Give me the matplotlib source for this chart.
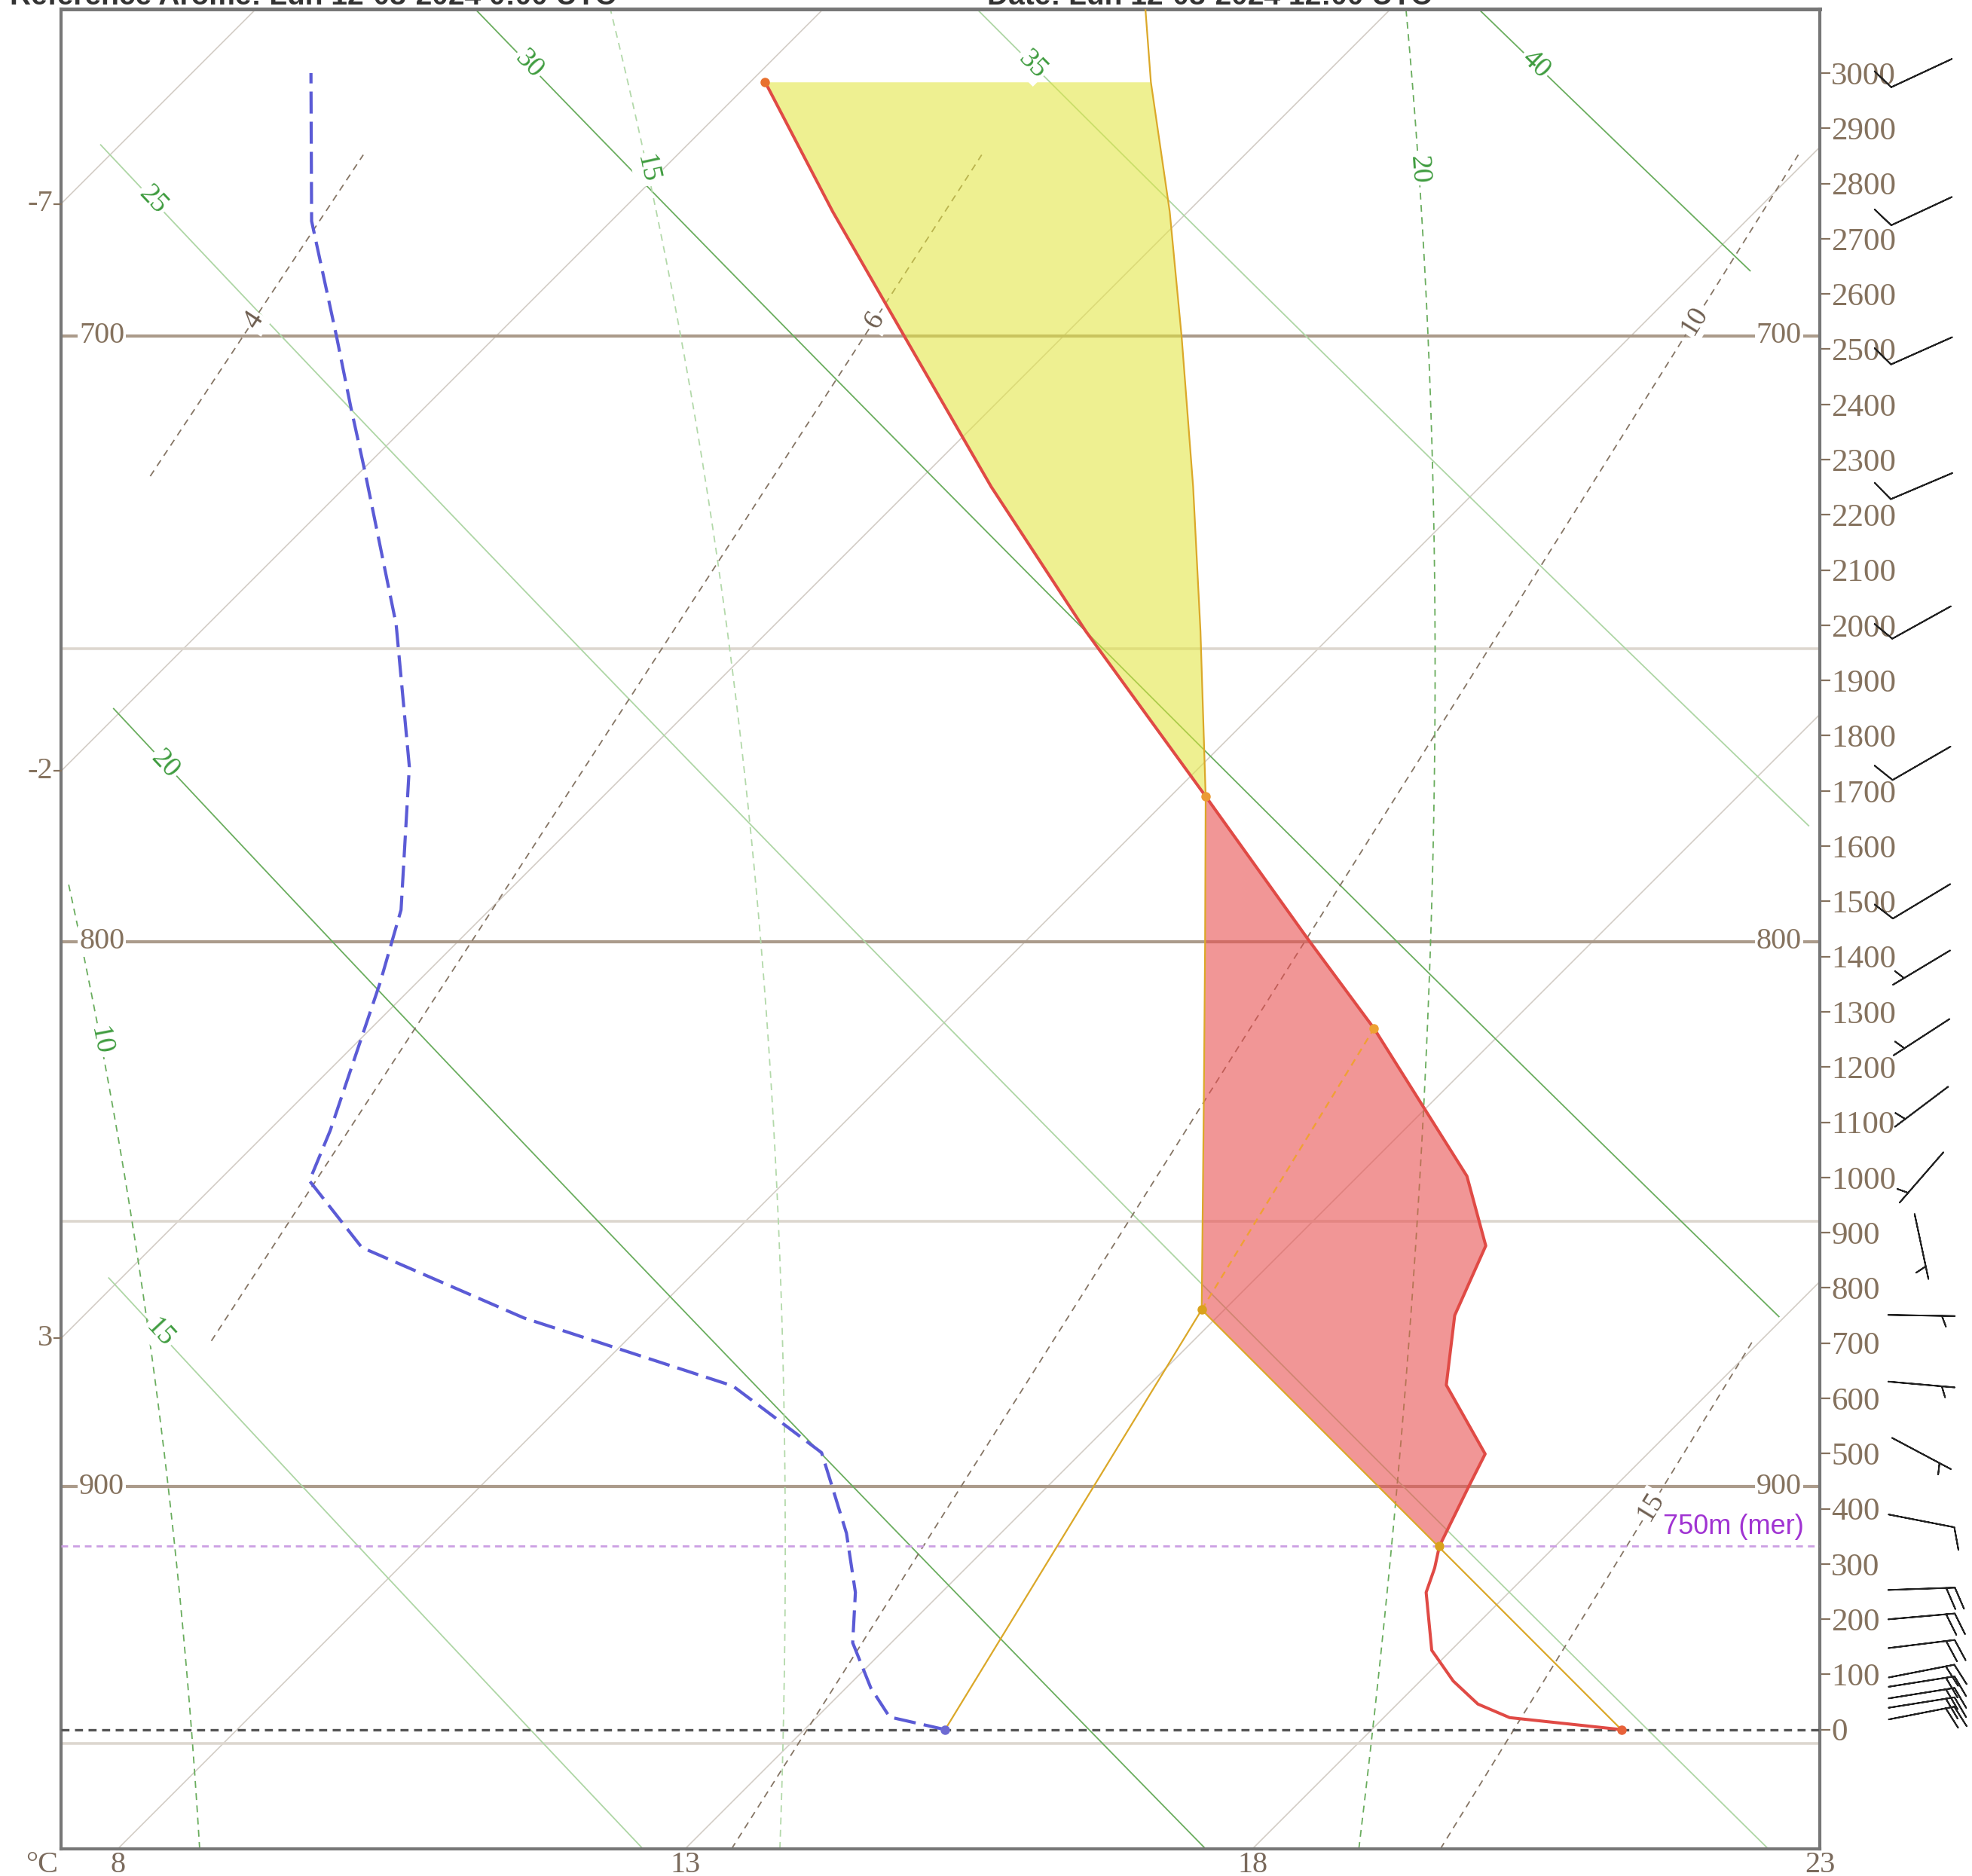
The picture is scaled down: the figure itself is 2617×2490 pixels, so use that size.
import numpy as np
import matplotlib
matplotlib.use('Agg')
import matplotlib.pyplot as plt

# ------------------------------------------------------------------ data
# environment temperature profile (height above ground m, temperature degC)
TEMP_H = [0, 21.7, 46.3, 88.0, 143.6, 248.5, 292.7, 332, 441.1, 499.2, 624, 750.2,
          876.3, 1002.4, 1269.8, 1431.6, 1690.2, 1989, 2251, 2522, 2749, 2984]
TEMP_T = [20.20, 19.11, 18.71, 18.29, 17.83, 17.27, 17.13, 16.98, 16.71, 16.57, 15.62, 15.08,
          14.74, 13.96, 11.84, 10.47, 8.31, 5.80, 3.69, 1.61, -0.13, -1.87]
# dew point profile
DEW_H = [0, 22.8, 75.2, 157.3, 248.5, 355.6, 446.8, 501.6, 622.4, 745.5, 873.1, 994,
         1085.1, 1351.8, 1484.5, 1744, 2001.6, 2279.7, 2396, 2522.5, 2732, 3000]
DEW_T = [14.24, 13.64, 13.22, 12.66, 12.24, 11.64, 11.06, 10.71, 9.34, 6.90, 4.85, 3.80,
         3.54, 2.68, 2.22, 1.03, -0.34, -1.97, -2.66, -3.40, -4.64, -5.95]
# parcel path (dry ascent to LCL, then saturated)
PARCEL_H = [0, 760.5, 1159, 1420, 1690.2, 1989, 2251, 2522, 2749, 2984, 3114]
PARCEL_T = [20.20, 12.80, 10.88, 9.62, 8.31, 6.81, 5.47, 4.05, 2.84, 1.53, 0.85]
# surface mixing-ratio line : surface dew point -> LCL -> CCL
MIXL_H = [0, 760.5, 1269.8]
MIXL_T = [14.24, 12.80, 11.84]
# levels
MSL750_H = 332          # 750 m above sea level
LFC_H = 1690.2
TOP_H = 2984
# special points
MARK_H = [0, 0, 760.5, 332, 1269.8, 1690.2, 2984]
MARK_T = [20.20, 14.24, 12.80, 16.98, 11.84, 8.31, -1.87]
MARK_C = ['#e8623a', '#6d6ad2', '#d9a21c', '#d9a21c', '#eda133', '#eb9a35', '#e8702e']

# pressure levels (hPa) and their heights
PRESS_MAIN = [900, 800, 700]
PRESS_MAIN_H = [440, 1427, 2524]
PRESS_MINOR = [950, 850, 750]
PRESS_MINOR_H = [-25, 921, 1958]

# diagram families
ISOTHERMS = [-7, -2, 3, 8, 13, 18, 23]
DRY_THETA = [15, 20, 25, 30, 35, 40]
DRY_BOT = [-216, -216, -216, 748, 1637, 2642]
DRY_TOP = [818, 1849, 2870, 3116, 3116, 3116]
MOIST_THW = [10, 15, 20]
MOIST_BOT = [-216, -216, -216]
MOIST_TOP = [1537, 3116, 3116]
MIX_W = [4, 6, 10, 15]
MIX_BOT = [2270, 704, -216, -216]
MIX_TOP = [2852, 2852, 2852, 704]

# winds
WIND_H = [30, 49, 66, 87, 106, 155, 205, 255, 378, 500, 625, 750, 875, 1000, 1128, 1254,
          1380, 1500, 1750, 2005, 2252, 2497, 2750, 3000]
WIND_DIR = [79, 81, 81, 81, 79, 83, 85, 88, 101, 118, 95, 91, 168, 221, 233, 237,
            239, 239, 240, 241, 247, 246, 245, 245]
WIND_KT = [20, 20, 20, 20, 20, 20, 20, 20, 10, 5, 5, 5, 5, 5, 5, 5,
           5, 10, 10, 10, 10, 10, 10, 10]

ALT_TICKS = list(range(0, 3001, 100))
X_TICKS = [8, 13, 18, 23]

HEAD_LEFT = "Référence Arome: Lun 12-08-2024 0:00 UTC"
HEAD_MID = "Date: Lun 12-08-2024 12:00 UTC"

# ------------------------------------------------------------------ layout
W, H = 2617, 2490
DPI = 100
SERIF = ['Liberation Serif', 'DejaVu Serif']
SANS = ['Liberation Sans', 'DejaVu Sans']
BROWN = '#85725e'

fig = plt.figure(figsize=(W / DPI, H / DPI), dpi=DPI)
AX_L, AX_R, AX_T, AX_B = 81, 2415, 12, 2454
ax = fig.add_axes([AX_L / W, 1 - AX_B / H, (AX_R - AX_L) / W, (AX_B - AX_T) / H])
X_MIN, X_MAX = 7.5, 23.0
H_BOT, H_TOP = -216, 3116
ax.set_xlim(X_MIN, X_MAX)
ax.set_ylim(H_BOT, H_TOP)
SKEW = ((AX_B - AX_T) / (H_TOP - H_BOT)) / ((AX_R - AX_L) / (X_MAX - X_MIN))


def sx(T, h):
    return np.asarray(T, float) + (np.asarray(h, float) - H_BOT) * SKEW


# pressure as function of height
_coef = np.polyfit(PRESS_MINOR_H + PRESS_MAIN_H,
                   np.log(PRESS_MINOR + PRESS_MAIN), 2)


def p_of_h(h):
    return np.exp(np.polyval(_coef, h))


_hg = np.linspace(-900, 3600, 2000)
_pg = p_of_h(_hg)


def h_of_p(p):
    return np.interp(p, _pg[::-1], _hg[::-1])


def td_of_w(p, w):
    e = w * p / (622.0 + w)
    a = np.log(e / 6.112)
    return 243.5 * a / (17.67 - a)


def moist_profile(thw):
    Rd, Cp, Lv, eps = 287.04, 1005.7, 2.476e6, 0.622

    def f(p, T):
        es = 6.112 * np.exp(17.67 * (T - 273.15) / (T - 29.65))
        rs = eps * es / (p - es)
        return (Rd * T + Lv * rs) / (Cp + Lv * Lv * rs * eps / (Rd * T * T)) / p

    ps = np.arange(1000.0, 599.0, -1.0)
    T = thw + 273.15
    out = [T]
    for i in range(len(ps) - 1):
        p, dp = ps[i], ps[i + 1] - ps[i]
        k1 = f(p, T)
        k2 = f(p + dp / 2, T + dp / 2 * k1)
        k3 = f(p + dp / 2, T + dp / 2 * k2)
        k4 = f(p + dp, T + dp * k3)
        T = T + dp / 6 * (k1 + 2 * k2 + 2 * k3 + k4)
        out.append(T)
    return h_of_p(ps), np.array(out) - 273.15


def line_label(xs, hs, h_lab, txt, color, size=27):
    x = np.interp(h_lab, hs, xs)
    x1 = np.interp(h_lab - 30, hs, xs)
    x2 = np.interp(h_lab + 30, hs, xs)
    p1 = ax.transData.transform((x1, h_lab - 30))
    p2 = ax.transData.transform((x2, h_lab + 30))
    ang = np.degrees(np.arctan2(p2[1] - p1[1], p2[0] - p1[0]))
    if ang > 90:
        ang -= 180
    if ang < -90:
        ang += 180
    ax.text(x, h_lab, txt, rotation=ang, rotation_mode='anchor', ha='center',
            va='center', color=color, fontsize=size, family=SERIF, zorder=7,
            bbox=dict(boxstyle='square,pad=0.08', fc='white', ec='none'))


# ------------------------------------------------------------------ background
for T in ISOTHERMS:
    ax.plot(sx([T, T], [H_BOT, H_TOP]), [H_BOT, H_TOP], color='#d3cdc6', lw=1.2, zorder=1)

for lev, hh in zip(PRESS_MINOR, PRESS_MINOR_H):
    ax.axhline(hh, color='#ddd7cf', lw=2.6, zorder=1)
for lev, hh in zip(PRESS_MAIN, PRESS_MAIN_H):
    ax.axhline(hh, color='#ab9b8b', lw=3.0, zorder=1.5)
    ax.text(7.86, hh, str(lev), ha='center', va='center', color=BROWN, fontsize=29,
            family=SERIF, zorder=7, bbox=dict(boxstyle='square,pad=0.05', fc='white', ec='none'))
    ax.text(22.64, hh, str(lev), ha='center', va='center', color=BROWN, fontsize=29,
            family=SERIF, zorder=7, bbox=dict(boxstyle='square,pad=0.05', fc='white', ec='none'))

for th, hb, ht in zip(DRY_THETA, DRY_BOT, DRY_TOP):
    hh = np.linspace(hb, ht, 120)
    T = (th + 273.15) * (p_of_h(hh) / 1000.0) ** 0.2857 - 273.15
    col = '#6aad5e' if th % 10 == 0 else '#aed6a5'
    xs = sx(T, hh)
    ax.plot(xs, hh, color=col, lw=1.3, zorder=2)
    line_label(xs, hh, ht - 100, str(th), '#3f9c3f')

for thw, hb, ht in zip(MOIST_THW, MOIST_BOT, MOIST_TOP):
    hp, Tp = moist_profile(thw)
    hh = np.linspace(hb, ht, 160)
    T = np.interp(hh, hp, Tp)
    col = '#6aad5e' if thw % 10 == 0 else '#b3d9aa'
    xs = sx(T, hh)
    ax.plot(xs, hh, color=col, lw=1.3, ls=(0, (5, 4)), zorder=2)
    line_label(xs, hh, ht - 290, str(thw), '#3f9c3f')

for w, hb, ht in zip(MIX_W, MIX_BOT, MIX_TOP):
    hh = np.linspace(hb, ht, 120)
    T = td_of_w(p_of_h(hh), w)
    xs = sx(T, hh)
    ax.plot(xs, hh, color='#857565', lw=1.3, ls=(0, (5, 4)), zorder=2)
    line_label(xs, hh, ht - 300, str(w), '#6e5e50')

# ground and 750 m asl
ax.axhline(0, color='#555555', lw=2.4, ls=(0, (3.2, 2.2)), zorder=3)
ax.axhline(MSL750_H, color='#cc9fe3', lw=2.0, ls=(0, (3.2, 2.4)), zorder=3)
ax.text(22.86, MSL750_H + 12, '750m (mer)', ha='right', va='bottom', color='#a033d2',
        fontsize=26, family=SANS, zorder=7)

# ------------------------------------------------------------------ fills
env_x = sx(TEMP_T, TEMP_H)
par_x = sx(PARCEL_T, PARCEL_H)


def fill_between_curves(h0, h1, color, alpha):
    hh = np.linspace(h0, h1, 600)
    extra = [v for v in TEMP_H + PARCEL_H if h0 < v < h1]
    hh = np.unique(np.concatenate([hh, extra]))
    a = np.interp(hh, TEMP_H, env_x)
    b = np.interp(hh, PARCEL_H, par_x)
    ax.fill_betweenx(hh, a, b, color=color, alpha=alpha, lw=0, zorder=4)


fill_between_curves(MSL750_H, LFC_H, '#e85050', 0.6)
fill_between_curves(LFC_H, TOP_H, '#e2e53c', 0.56)

# ------------------------------------------------------------------ profiles
ax.plot(par_x, PARCEL_H, color='#dba829', lw=1.6, zorder=5)
mx = sx(MIXL_T, MIXL_H)
ax.plot(mx[:2], MIXL_H[:2], color='#dba829', lw=1.6, zorder=5)
ax.plot(mx[1:], MIXL_H[1:], color='#f0a035', lw=1.7, ls=(0, (4, 3)), zorder=5)
ax.plot(env_x, TEMP_H, color='#e04a45', lw=2.9, zorder=6, solid_joinstyle='round')
ax.plot(sx(DEW_T, DEW_H), DEW_H, color='#5b5bd6', lw=3.0, ls=(0, (7, 2.6)), zorder=6)
for hh, T, c in zip(MARK_H, MARK_T, MARK_C):
    ax.plot(sx(T, hh), hh, 'o', color=c, ms=9, mew=0, zorder=8)

# ------------------------------------------------------------------ axes styling
for s in ax.spines.values():
    s.set_color('#777777')
    s.set_linewidth(3)
ax.spines['top'].set_linewidth(3.6)
ax.yaxis.tick_right()
ax.set_yticks(ALT_TICKS)
ax.set_yticklabels([str(v) for v in ALT_TICKS])
ax.tick_params(axis='y', which='both', direction='out', length=10, width=1.6, color=BROWN,
               labelcolor=BROWN, labelsize=31, pad=1)
ax.set_xticks(X_TICKS)
ax.set_xticklabels([str(v) for v in X_TICKS])
ax.tick_params(axis='x', length=0, labelcolor='#7a6a5c', labelsize=29, pad=2)
for lab in ax.get_xticklabels() + ax.get_yticklabels():
    lab.set_family(SERIF)
ax.annotate('°C', xy=(7.334, H_BOT), xytext=(0, -2), textcoords='offset points',
            ha='center', va='top', color='#7a6a5c', fontsize=29, family=SERIF,
            annotation_clip=False)

# isotherm labels on the left edge
for T in ISOTHERMS:
    hl = (X_MIN - T) / SKEW + H_BOT
    if H_BOT < hl < H_TOP:
        ax.plot([X_MIN - 0.06, X_MIN], [hl, hl], color=BROWN, lw=1.6, clip_on=False, zorder=9)
        ax.text(X_MIN - 0.07, hl, str(T), ha='right', va='center', color=BROWN,
                fontsize=29, family=SERIF, clip_on=False)

# headers (cut by the top of the image)
fig.text(13 / W, 1 - 6 / H, HEAD_LEFT, ha='left', va='baseline', fontsize=28,
         fontweight='bold', family=SANS, color='#333333')
fig.text(1310 / W, 1 - 6 / H, HEAD_MID, ha='left', va='baseline', fontsize=28,
         fontweight='bold', family=SANS, color='#333333')

# ------------------------------------------------------------------ wind barbs
bx = fig.add_axes([2483 / W, 1 - AX_B / H, (2617 - 2483) / W, (AX_B - AX_T) / H])
bx.set_xlim(0, 1)
bx.set_ylim(H_BOT, H_TOP)
bx.axis('off')
d = np.radians(WIND_DIR)
spd = np.asarray(WIND_KT, float)
u = -spd * np.sin(d)
v = -spd * np.cos(d)
bx.barbs(np.full(len(WIND_H), 0.5), WIND_H, u, v, length=11.3, pivot='middle',
         linewidth=1.4, color='#222222', sizes=dict(height=0.32, spacing=0.13),
         clip_on=False)

fig.savefig('out.png', dpi=DPI)
